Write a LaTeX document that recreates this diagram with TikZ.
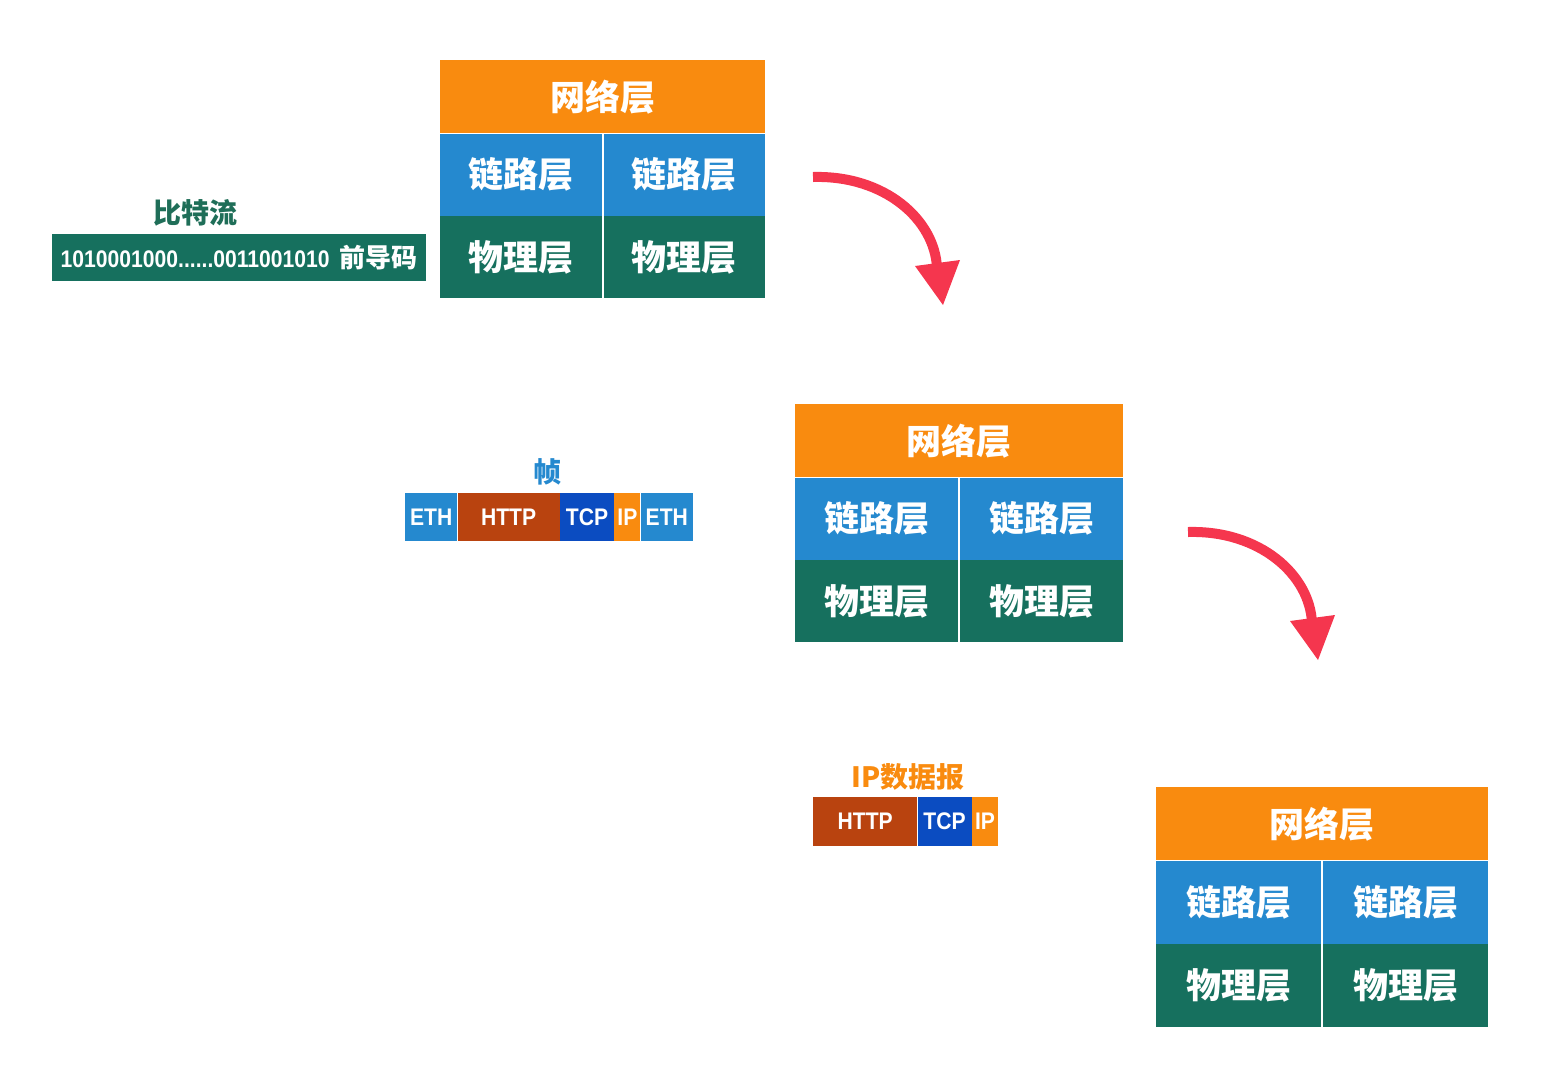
\documentclass[tikz,border=0pt]{standalone}
\usepackage{fontspec}
\newfontfamily\cjk{Noto Sans CJK SC}
\newfontfamily\narrowfont[FakeStretch=0.88]{Liberation Sans}
\definecolor{corange}{HTML}{F98B0F}
\definecolor{cblue}{HTML}{2589CF}
\definecolor{cgreen}{HTML}{16705E}
\definecolor{crust}{HTML}{B9430F}
\definecolor{cdarkblue}{HTML}{0B4CC1}
\definecolor{cred}{HTML}{F5364E}
\definecolor{clabelgreen}{HTML}{1F6E58}
\newcommand\layerstack[6]{% prefix, x, y, width, half width, row height
  \node[cell, fill=corange, minimum width=#4, minimum height=73] (#1net) at (#2,#3) {网络层};
  \node[cell, fill=cblue, minimum width=#5, minimum height=#6] (#1ll) at (#1net.south west) {链路层};
  \node[cell, fill=cblue, minimum width=#5, minimum height=#6, anchor=north east] (#1lr) at (#1net.south east) {链路层};
  \node[cell, fill=cgreen, minimum width=#5, minimum height=#6] (#1pl) at (#1ll.south west) {物理层};
  \node[cell, fill=cgreen, minimum width=#5, minimum height=#6, anchor=north east] (#1pr) at (#1lr.south east) {物理层};
}
\newcommand\redarrow[3]{% name, dx, dy
  \begin{scope}[shift={(#2,#3)}]
    \coordinate (#1s) at (813,177);
    \coordinate (#1e) at (937,268);
    \coordinate (#1l) at (915,266);
    \coordinate (#1r) at (960,260);
    \coordinate (#1t) at (943,305);
    \draw[arrowline] (#1s) .. controls (885,175) and (935,220) .. (#1e);
    \fill[cred] (#1l) -- (#1r) -- (#1t) -- cycle;
  \end{scope}
}
\begin{document}
\begin{tikzpicture}[x=1pt,y=-1pt,
  cell/.style={rectangle, inner sep=0pt, anchor=north west, text=white,
    font=\cjk\bfseries\fontsize{35}{35}\selectfont},
  pkt/.style={rectangle, inner sep=0pt, anchor=west, text=white, minimum height=48,
    font=\narrowfont\bfseries\fontsize{24}{24}\selectfont},
  lbl/.style={inner sep=0pt, font=\cjk\bfseries\fontsize{28}{28}\selectfont},
  arrowline/.style={draw=cred, line width=10pt}]
\useasboundingbox (0,0) rectangle (1547,1080);

% layer stacks
\layerstack{a}{440}{60}{325}{161.5}{82}
\layerstack{b}{795}{404}{328}{163}{82}
\layerstack{c}{1156}{787}{332}{165}{83}

% bit stream
\node[lbl, text=clabelgreen] (bitlbl) at (195,213) {比特流};
\node[rectangle, fill=cgreen, anchor=north west, minimum width=374, minimum height=47, inner sep=0pt, text=white] (bits) at (52,234)
  {{\narrowfont\bfseries\fontsize{24}{24}\selectfont 1010001000......0011001010}\hspace{10pt}{\cjk\bfseries\fontsize{26}{26}\selectfont 前导码}};

% frame
\node[lbl, text=cblue] (framelbl) at (547,472) {帧};
\node[pkt, fill=cblue, minimum width=52] (f1) at (405,517) {ETH};
\node[pkt, fill=crust, minimum width=102] (f2) at (f1.east) {HTTP};
\node[pkt, fill=cdarkblue, minimum width=54] (f3) at (f2.east) {TCP};
\node[pkt, fill=corange, minimum width=26] (f4) at (f3.east) {IP};
\node[pkt, fill=cblue, minimum width=52] (f5) at (f4.east) {ETH};

% IP datagram
\node[lbl, text=corange] (iplbl) at (908,777) {IP数据报};
\node[pkt, fill=crust, minimum width=104, minimum height=49] (d1) at (813,821.5) {HTTP};
\node[pkt, fill=cdarkblue, minimum width=54, minimum height=49] (d2) at (d1.east) {TCP};
\node[pkt, fill=corange, minimum width=26, minimum height=49] (d3) at (d2.east) {IP};

% arrows
\redarrow{r1}{0}{0}
\redarrow{r2}{375}{355}
\end{tikzpicture}
\end{document}
